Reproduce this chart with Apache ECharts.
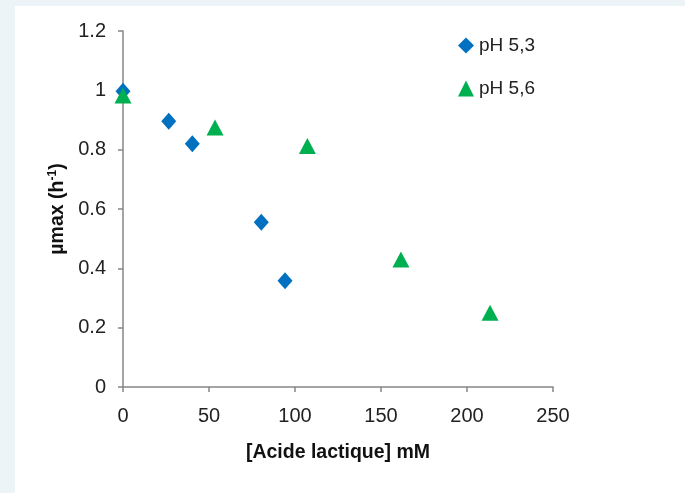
<!DOCTYPE html>
<html>
<head>
<meta charset="utf-8">
<script src="https://cdn.jsdelivr.net/npm/echarts@6/dist/echarts.min.js"></script>
<style>
  html, body { margin: 0; padding: 0; background: #edf4f7; }
  #chart {
    position: absolute;
    left: 15px;
    top: 6px;
    width: 670px;
    height: 487px;
    background: #fff;
  }
</style>
</head>
<body>
<div id="chart"></div>
<script>
// pH 5,3
const acidePH53 = [0, 26.6, 40.3, 80.4, 94.2];
const muPH53 = [0.997, 0.896, 0.82, 0.555, 0.358];
// pH 5,6
const acidePH56 = [0, 53.5, 107.2, 161.6, 213.4];
const muPH56 = [0.983, 0.875, 0.812, 0.43, 0.25];

const xTicks = [0, 250, 50];   // min, max, interval
const yTicks = [0, 1.2, 0.2];

const font = 'Liberation Sans';

function pairs(xs, ys) {
    return xs.map((x, i) => [x, ys[i]]);
}

let chartDom = document.getElementById('chart');
let myChart = echarts.init(chartDom);

let option = {
    animation: false,
    textStyle: { fontFamily: font },
    grid: { left: 108, right: 132, top: 25, bottom: 106 },
    legend: {
        orient: 'vertical',
        left: 438,
        top: 25,
        itemGap: 24,
        itemWidth: 16,
        itemHeight: 16,
        textStyle: { fontFamily: font, fontSize: 19, color: '#222' },
        data: [
            { name: 'pH 5,3', icon: 'diamond' },
            { name: 'pH 5,6', icon: 'triangle' }
        ]
    },
    xAxis: {
        type: 'value',
        min: xTicks[0],
        max: xTicks[1],
        interval: xTicks[2],
        name: '[Acide lactique] mM',
        nameLocation: 'middle',
        nameGap: 56,
        nameTextStyle: { fontFamily: font, fontSize: 19.5, fontWeight: 'bold', color: '#111' },
        axisLine: { lineStyle: { color: '#868686', width: 1.5 } },
        axisTick: { show: true, length: 5, lineStyle: { color: '#868686', width: 1.5 } },
        axisLabel: { fontFamily: font, fontSize: 20, color: '#222', margin: 19 },
        splitLine: { show: false }
    },
    yAxis: {
        type: 'value',
        min: yTicks[0],
        max: yTicks[1],
        interval: yTicks[2],
        name: '{b|µmax (h}{s|-1}{b|)}',
        nameLocation: 'middle',
        nameGap: 55,
        nameRotate: 90,
        nameTextStyle: {
            rich: {
                b: { fontFamily: font, fontSize: 19.5, fontWeight: 'bold', color: '#111' },
                s: { fontFamily: font, fontSize: 12, fontWeight: 'bold', color: '#111', verticalAlign: 'top', padding: [0, 0, 9, 0] }
            }
        },
        axisLine: { show: true, lineStyle: { color: '#868686', width: 1.5 } },
        axisTick: { show: true, length: 5, lineStyle: { color: '#868686', width: 1.5 } },
        axisLabel: {
            fontFamily: font, fontSize: 20, color: '#222', margin: 17,
            formatter: v => String(+v.toFixed(1))
        },
        splitLine: { show: false }
    },
    series: [
        {
            name: 'pH 5,3',
            type: 'scatter',
            symbol: 'diamond',
            symbolSize: [15, 17],
            itemStyle: { color: '#0070c0', opacity: 1 },
            data: pairs(acidePH53, muPH53)
        },
        {
            name: 'pH 5,6',
            type: 'scatter',
            symbol: 'triangle',
            symbolSize: [17, 16],
            itemStyle: { color: '#00b050', opacity: 1 },
            data: pairs(acidePH56, muPH56)
        }
    ]
};

option && myChart.setOption(option);
window.addEventListener('resize', () => {
    myChart.resize();
});
</script>
</body>
</html>
